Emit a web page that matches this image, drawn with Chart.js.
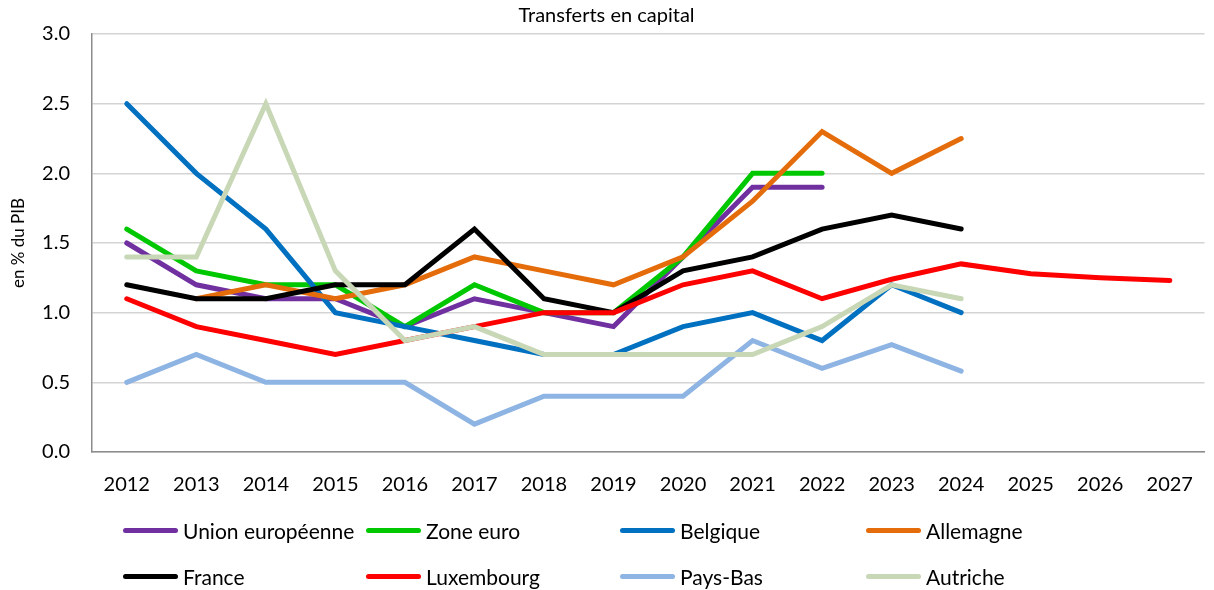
<!DOCTYPE html>
<html>
<head>
<meta charset="utf-8">
<script src="https://cdn.jsdelivr.net/npm/chart.js@4"></script>
<style>
  html, body { margin: 0; padding: 0; background: #fff; }
  #wrap { position: relative; width: 1214px; height: 590px; font-family: Lato, "Open Sans", sans-serif; }
  #chart { position: absolute; left: 0; top: 0; }
  .leg { position: absolute; display: flex; align-items: center; font-size: 21px; color: #000; white-space: nowrap; }
  .leg span.sw { display: inline-block; width: 55px; height: 5px; border-radius: 3px; margin-right: 5px; }
</style>
</head>
<body>
<div id="wrap">
  <canvas id="chart" width="1214" height="590"></canvas>
</div>
<script>
const years = ['2012', '2013', '2014', '2015', '2016', '2017', '2018', '2019', '2020', '2021', '2022', '2023', '2024', '2025', '2026', '2027'];

const unionEuropeenne = [1.5, 1.2, 1.1, 1.1, 0.9, 1.1, 1.0, 0.9, 1.4, 1.9, 1.9, null, null, null, null, null];
const zoneEuro = [1.6, 1.3, 1.2, 1.2, 0.9, 1.2, 1.0, 1.0, 1.4, 2.0, 2.0, null, null, null, null, null];
const belgique = [2.5, 2.0, 1.6, 1.0, 0.9, 0.8, 0.7, 0.7, 0.9, 1.0, 0.8, 1.2, 1.0, null, null, null];
const allemagne = [null, 1.1, 1.2, 1.1, 1.2, 1.4, 1.3, 1.2, 1.4, 1.8, 2.3, 2.0, 2.25, null, null, null];
const france = [1.2, 1.1, 1.1, 1.2, 1.2, 1.6, 1.1, 1.0, 1.3, 1.4, 1.6, 1.7, 1.6, null, null, null];
const luxembourg = [1.1, 0.9, 0.8, 0.7, 0.8, 0.9, 1.0, 1.0, 1.2, 1.3, 1.1, 1.24, 1.35, 1.28, 1.25, 1.23];
const paysBas = [0.5, 0.7, 0.5, 0.5, 0.5, 0.2, 0.4, 0.4, 0.4, 0.8, 0.6, 0.77, 0.58, null, null, null];
const autriche = [1.4, 1.4, 2.5, 1.3, 0.8, 0.9, 0.7, 0.7, 0.7, 0.7, 0.9, 1.2, 1.1, null, null, null];

const yTicks = [0, 0.5, 1.0, 1.5, 2.0, 2.5, 3.0];

const series = [
  { label: 'Union européenne', data: unionEuropeenne, color: '#7030A0' },
  { label: 'Zone euro', data: zoneEuro, color: '#00C800' },
  { label: 'Belgique', data: belgique, color: '#0070C0' },
  { label: 'Allemagne', data: allemagne, color: '#E46C0A' },
  { label: 'France', data: france, color: '#000000' },
  { label: 'Luxembourg', data: luxembourg, color: '#FF0000' },
  { label: 'Pays-Bas', data: paysBas, color: '#8EB4E3' },
  { label: 'Autriche', data: autriche, color: '#C8D7B5' }
];

const font = 'Lato, "Open Sans", sans-serif';

new Chart(document.getElementById('chart'), {
  type: 'line',
  data: {
    labels: years,
    datasets: series.map((s, i) => ({
      label: s.label,
      data: s.data,
      borderColor: s.color,
      backgroundColor: s.color,
      borderWidth: 5,
      borderCapStyle: 'round',
      borderJoinStyle: 'miter',
      pointRadius: 0,
      tension: 0,
      fill: false,
      spanGaps: false,
      // last series ends up on top
      order: series.length - i
    }))
  },
  options: {
    responsive: false,
    animation: false,
    layout: { padding: { left: 0, right: 1, top: 0, bottom: 88 } },
    plugins: {
      legend: { display: false },
      tooltip: { enabled: false },
      title: {
        display: true,
        text: 'Transferts en capital',
        color: '#000',
        font: { family: font, size: 20, weight: 'normal' },
        padding: { top: 4, bottom: 6 }
      }
    },
    scales: {
      x: {
        offset: true,
        grid: { display: false, drawTicks: false },
        border: { display: true, color: '#8c8c8c', width: 1.5 },
        ticks: { color: '#000', font: { family: font, size: 20 }, padding: 21, maxRotation: 0, autoSkip: false },
        afterFit: (axis) => { axis.height = 50; }
      },
      y: {
        min: 0,
        max: 3,
        afterBuildTicks: (axis) => { axis.ticks = yTicks.map(v => ({ value: v })); },
        grid: { color: '#d4d4d4', lineWidth: 1.5, drawTicks: false },
        border: { display: true, color: '#8c8c8c', width: 1.5 },
        ticks: {
          color: '#000',
          font: { family: font, size: 20 },
          padding: 22,
          callback: (v) => Number(v).toFixed(1)
        },
        title: {
          display: true,
          text: 'en % du PIB',
          color: '#000',
          font: { family: font, size: 17 },
          padding: { top: 8, bottom: 0 }
        },
        afterFit: (axis) => { axis.width = 92; }
      }
    }
  }
});

// legend laid out in two rows of four fixed columns
const wrap = document.getElementById('wrap');
const colX = [123, 366, 620, 866];
const rowY = [530, 576];
series.forEach((s, i) => {
  const el = document.createElement('div');
  el.className = 'leg';
  el.style.left = colX[i % 4] + 'px';
  el.style.top = (rowY[Math.floor(i / 4)] - 13) + 'px';
  el.style.height = '26px';
  const sw = document.createElement('span');
  sw.className = 'sw';
  sw.style.background = s.color;
  el.appendChild(sw);
  el.appendChild(document.createTextNode(s.label));
  wrap.appendChild(el);
});
</script>
</body>
</html>
